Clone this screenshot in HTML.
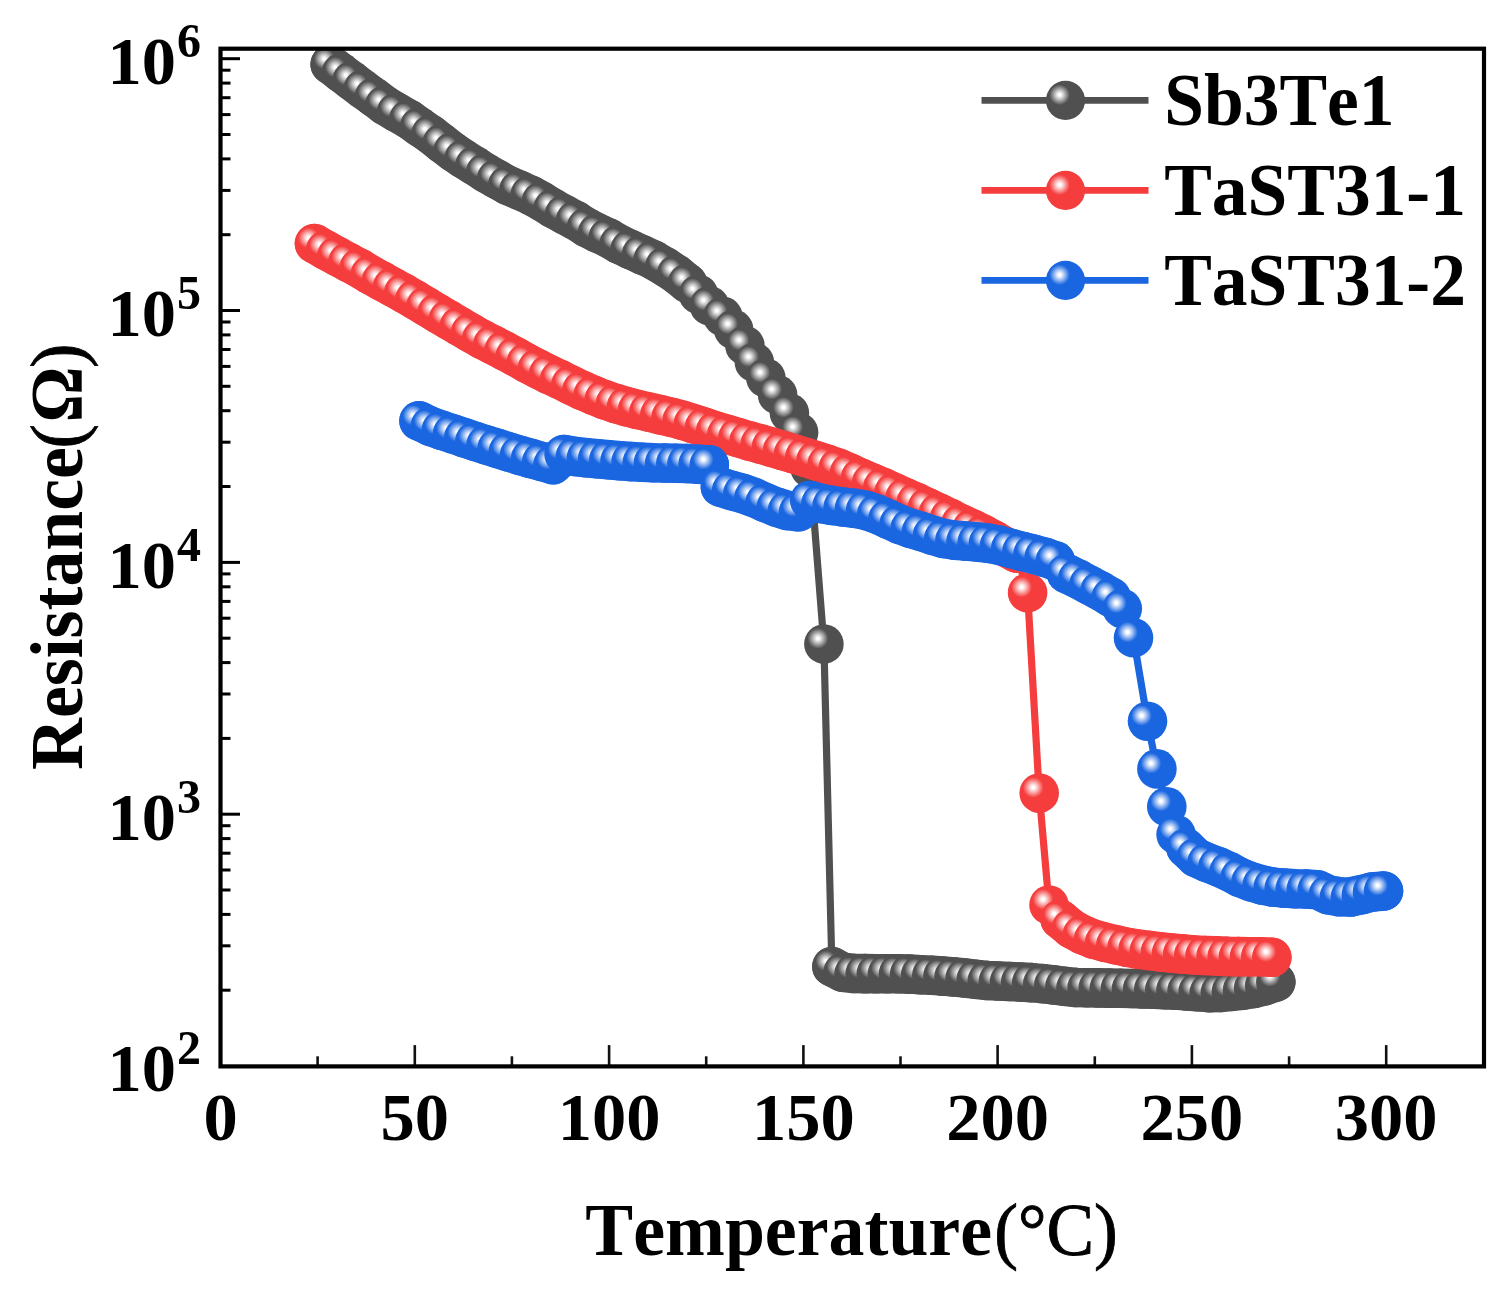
<!DOCTYPE html>
<html lang="en"><head><meta charset="utf-8"><title>Resistance vs Temperature</title>
<style>
html,body{margin:0;padding:0;background:#fff;}
body{width:1509px;height:1289px;overflow:hidden;}
svg{display:block;filter:blur(0.55px);}
text{font-family:"Liberation Serif","Noto Serif CJK SC",serif;font-weight:bold;fill:#000;font-kerning:none;}
.tk{font-size:68.5px;}
.ex{font-size:48px;}
.ttl{font-size:73.5px;}
.lg{font-size:73.5px;}
.lt{font-weight:normal;stroke:#000;stroke-width:0.9px;}
</style></head><body>
<svg width="1509" height="1289" viewBox="0 0 1509 1289">
<defs>
<radialGradient id="gk" cx="0.35" cy="0.357" r="0.26" fx="0.35" fy="0.357"><stop offset="0" stop-color="#ffffff"/><stop offset="0.12" stop-color="#ffffff"/><stop offset="0.4" stop-color="#cacaca"/><stop offset="0.72" stop-color="#888888"/><stop offset="1" stop-color="#505050"/></radialGradient>
<radialGradient id="gr" cx="0.35" cy="0.357" r="0.26" fx="0.35" fy="0.357"><stop offset="0" stop-color="#ffffff"/><stop offset="0.12" stop-color="#ffffff"/><stop offset="0.4" stop-color="#fcc5c5"/><stop offset="0.72" stop-color="#f87b7b"/><stop offset="1" stop-color="#f53d3d"/></radialGradient>
<radialGradient id="gb" cx="0.35" cy="0.357" r="0.26" fx="0.35" fy="0.357"><stop offset="0" stop-color="#ffffff"/><stop offset="0.12" stop-color="#ffffff"/><stop offset="0.4" stop-color="#bad1f6"/><stop offset="0.72" stop-color="#6397ea"/><stop offset="1" stop-color="#1a66e0"/></radialGradient>
<clipPath id="cp"><rect x="220.5" y="48.7" width="1263.5" height="1017.7"/></clipPath>
</defs>
<rect x="0" y="0" width="1509" height="1289" fill="#ffffff"/>
<g clip-path="url(#cp)">
<path d="M330.2 64.4 L341.3 72.9 L351.9 80.8 L363.0 89.3 L374.1 97.3 L384.7 105.2 L396.5 112.3 L408.8 119.2 L419.5 126.8 L430.8 134.5 L442.1 143.4 L452.8 151.6 L463.8 159.0 L474.8 165.8 L485.5 172.8 L496.5 179.0 L507.7 185.2 L518.9 190.0 L530.1 195.0 L541.5 201.2 L553.1 208.4 L564.5 214.6 L575.5 220.4 L586.5 227.4 L597.5 233.0 L608.1 237.8 L619.1 244.2 L630.1 249.4 L641.5 254.6 L653.1 259.8 L664.8 266.6 L676.5 274.3 L687.5 283.2 L698.5 294.3 L709.5 305.8 L722.8 316.4 L733.6 329.4 L744.9 345.6 L754.4 362.3 L765.9 378.0 L777.6 394.8 L789.4 413.0 L798.6 432.3 L810.0 468.0 L823.9 644.0 L831.9 966.6 L843.0 972.3 L854.1 973.5 L865.2 973.6 L876.3 973.7 L887.4 973.8 L898.5 973.8 L909.6 974.1 L920.7 974.7 L931.8 975.3 L942.9 976.1 L954.0 976.9 L965.1 978.0 L976.2 979.3 L987.3 980.5 L998.4 981.0 L1009.5 981.5 L1020.6 982.1 L1031.7 982.6 L1042.8 983.6 L1053.8 984.9 L1064.9 986.3 L1076.0 987.5 L1087.1 987.7 L1098.2 987.9 L1109.3 988.1 L1120.4 988.3 L1131.5 988.5 L1142.6 988.9 L1153.7 989.3 L1164.8 989.7 L1175.9 990.1 L1187.0 990.9 L1198.1 991.7 L1209.2 992.6 L1220.3 992.5 L1231.4 991.4 L1242.5 990.2 L1253.6 988.4 L1264.7 985.7 L1275.8 982.0" fill="none" stroke="#505050" stroke-width="7.2" stroke-linejoin="round"/>
<path d="M330.2 64.4 L341.3 72.9 L351.9 80.8 L363.0 89.3 L374.1 97.3 L384.7 105.2 L396.5 112.3 L408.8 119.2 L419.5 126.8 L430.8 134.5 L442.1 143.4 L452.8 151.6 L463.8 159.0 L474.8 165.8 L485.5 172.8 L496.5 179.0 L507.7 185.2 L518.9 190.0 L530.1 195.0 L541.5 201.2 L553.1 208.4 L564.5 214.6 L575.5 220.4 L586.5 227.4 L597.5 233.0 L608.1 237.8 L619.1 244.2 L630.1 249.4 L641.5 254.6 L653.1 259.8 L664.8 266.6 L676.5 274.3 L687.5 283.2 M831.9 966.6 L843.0 972.3 L854.1 973.5 L865.2 973.6 L876.3 973.7 L887.4 973.8 L898.5 973.8 L909.6 974.1 L920.7 974.7 L931.8 975.3 L942.9 976.1 L954.0 976.9 L965.1 978.0 L976.2 979.3 L987.3 980.5 L998.4 981.0 L1009.5 981.5 L1020.6 982.1 L1031.7 982.6 L1042.8 983.6 L1053.8 984.9 L1064.9 986.3 L1076.0 987.5 L1087.1 987.7 L1098.2 987.9 L1109.3 988.1 L1120.4 988.3 L1131.5 988.5 L1142.6 988.9 L1153.7 989.3 L1164.8 989.7 L1175.9 990.1 L1187.0 990.9 L1198.1 991.7 L1209.2 992.6 L1220.3 992.5 L1231.4 991.4 L1242.5 990.2 L1253.6 988.4 L1264.7 985.7 L1275.8 982.0" fill="none" stroke="#505050" stroke-width="39.6" stroke-linejoin="round" stroke-linecap="round"/>
<g fill="url(#gk)">
<circle cx="330.2" cy="64.4" r="19.8"/>
<circle cx="341.3" cy="72.9" r="19.8"/>
<circle cx="351.9" cy="80.8" r="19.8"/>
<circle cx="363.0" cy="89.3" r="19.8"/>
<circle cx="374.1" cy="97.3" r="19.8"/>
<circle cx="384.7" cy="105.2" r="19.8"/>
<circle cx="396.5" cy="112.3" r="19.8"/>
<circle cx="408.8" cy="119.2" r="19.8"/>
<circle cx="419.5" cy="126.8" r="19.8"/>
<circle cx="430.8" cy="134.5" r="19.8"/>
<circle cx="442.1" cy="143.4" r="19.8"/>
<circle cx="452.8" cy="151.6" r="19.8"/>
<circle cx="463.8" cy="159.0" r="19.8"/>
<circle cx="474.8" cy="165.8" r="19.8"/>
<circle cx="485.5" cy="172.8" r="19.8"/>
<circle cx="496.5" cy="179.0" r="19.8"/>
<circle cx="507.7" cy="185.2" r="19.8"/>
<circle cx="518.9" cy="190.0" r="19.8"/>
<circle cx="530.1" cy="195.0" r="19.8"/>
<circle cx="541.5" cy="201.2" r="19.8"/>
<circle cx="553.1" cy="208.4" r="19.8"/>
<circle cx="564.5" cy="214.6" r="19.8"/>
<circle cx="575.5" cy="220.4" r="19.8"/>
<circle cx="586.5" cy="227.4" r="19.8"/>
<circle cx="597.5" cy="233.0" r="19.8"/>
<circle cx="608.1" cy="237.8" r="19.8"/>
<circle cx="619.1" cy="244.2" r="19.8"/>
<circle cx="630.1" cy="249.4" r="19.8"/>
<circle cx="641.5" cy="254.6" r="19.8"/>
<circle cx="653.1" cy="259.8" r="19.8"/>
<circle cx="664.8" cy="266.6" r="19.8"/>
<circle cx="676.5" cy="274.3" r="19.8"/>
<circle cx="687.5" cy="283.2" r="19.8"/>
<circle cx="698.5" cy="294.3" r="19.8"/>
<circle cx="709.5" cy="305.8" r="19.8"/>
<circle cx="722.8" cy="316.4" r="19.8"/>
<circle cx="733.6" cy="329.4" r="19.8"/>
<circle cx="744.9" cy="345.6" r="19.8"/>
<circle cx="754.4" cy="362.3" r="19.8"/>
<circle cx="765.9" cy="378.0" r="19.8"/>
<circle cx="777.6" cy="394.8" r="19.8"/>
<circle cx="789.4" cy="413.0" r="19.8"/>
<circle cx="798.6" cy="432.3" r="19.8"/>
<circle cx="810.0" cy="468.0" r="19.8"/>
<circle cx="823.9" cy="644.0" r="19.8"/>
<circle cx="831.9" cy="966.6" r="19.8"/>
<circle cx="843.0" cy="972.3" r="19.8"/>
<circle cx="854.1" cy="973.5" r="19.8"/>
<circle cx="865.2" cy="973.6" r="19.8"/>
<circle cx="876.3" cy="973.7" r="19.8"/>
<circle cx="887.4" cy="973.8" r="19.8"/>
<circle cx="898.5" cy="973.8" r="19.8"/>
<circle cx="909.6" cy="974.1" r="19.8"/>
<circle cx="920.7" cy="974.7" r="19.8"/>
<circle cx="931.8" cy="975.3" r="19.8"/>
<circle cx="942.9" cy="976.1" r="19.8"/>
<circle cx="954.0" cy="976.9" r="19.8"/>
<circle cx="965.1" cy="978.0" r="19.8"/>
<circle cx="976.2" cy="979.3" r="19.8"/>
<circle cx="987.3" cy="980.5" r="19.8"/>
<circle cx="998.4" cy="981.0" r="19.8"/>
<circle cx="1009.5" cy="981.5" r="19.8"/>
<circle cx="1020.6" cy="982.1" r="19.8"/>
<circle cx="1031.7" cy="982.6" r="19.8"/>
<circle cx="1042.8" cy="983.6" r="19.8"/>
<circle cx="1053.8" cy="984.9" r="19.8"/>
<circle cx="1064.9" cy="986.3" r="19.8"/>
<circle cx="1076.0" cy="987.5" r="19.8"/>
<circle cx="1087.1" cy="987.7" r="19.8"/>
<circle cx="1098.2" cy="987.9" r="19.8"/>
<circle cx="1109.3" cy="988.1" r="19.8"/>
<circle cx="1120.4" cy="988.3" r="19.8"/>
<circle cx="1131.5" cy="988.5" r="19.8"/>
<circle cx="1142.6" cy="988.9" r="19.8"/>
<circle cx="1153.7" cy="989.3" r="19.8"/>
<circle cx="1164.8" cy="989.7" r="19.8"/>
<circle cx="1175.9" cy="990.1" r="19.8"/>
<circle cx="1187.0" cy="990.9" r="19.8"/>
<circle cx="1198.1" cy="991.7" r="19.8"/>
<circle cx="1209.2" cy="992.6" r="19.8"/>
<circle cx="1220.3" cy="992.5" r="19.8"/>
<circle cx="1231.4" cy="991.4" r="19.8"/>
<circle cx="1242.5" cy="990.2" r="19.8"/>
<circle cx="1253.6" cy="988.4" r="19.8"/>
<circle cx="1264.7" cy="985.7" r="19.8"/>
<circle cx="1275.8" cy="982.0" r="19.8"/>
</g>
<path d="M314.5 243.6 L325.6 250.0 L336.8 256.1 L347.9 262.1 L359.1 268.0 L370.2 274.7 L381.4 280.9 L392.5 287.0 L403.6 293.1 L414.8 299.6 L425.9 306.2 L437.1 313.1 L448.2 319.6 L459.4 326.2 L470.5 332.8 L481.6 339.1 L492.8 344.7 L503.9 350.6 L515.1 356.5 L526.2 362.8 L537.4 368.6 L548.5 374.2 L559.6 379.4 L570.8 385.0 L581.9 390.3 L593.1 395.1 L604.2 399.6 L615.4 403.4 L626.5 406.6 L637.6 409.5 L648.8 412.0 L659.9 414.6 L671.1 417.2 L682.2 420.2 L693.4 423.7 L704.5 427.2 L715.6 431.0 L726.8 434.3 L737.9 437.5 L749.1 440.9 L760.2 443.9 L771.4 447.1 L782.5 450.4 L793.6 453.7 L804.8 457.1 L815.9 460.7 L827.1 464.2 L838.2 468.1 L849.4 473.0 L860.5 478.0 L871.6 482.7 L882.8 487.4 L893.9 492.5 L905.1 497.5 L916.2 502.4 L927.4 507.6 L938.5 512.9 L949.6 518.1 L960.8 523.8 L971.9 528.8 L983.1 534.3 L994.2 540.4 L1005.4 546.9 L1016.5 553.0 L1027.6 592.7 L1039.2 793.1 L1049.0 905.0 L1060.1 919.3 L1071.3 928.6 L1082.4 934.7 L1093.6 939.2 L1104.7 942.2 L1115.8 944.8 L1127.0 947.3 L1138.1 949.1 L1149.3 950.5 L1160.4 951.9 L1171.5 953.0 L1182.7 953.9 L1193.8 954.9 L1205.0 955.5 L1216.1 955.9 L1227.2 956.4 L1238.4 956.6 L1249.5 956.7 L1260.7 956.8 L1271.8 957.3" fill="none" stroke="#f53d3d" stroke-width="7.2" stroke-linejoin="round"/>
<path d="M314.5 243.6 L325.6 250.0 L336.8 256.1 L347.9 262.1 L359.1 268.0 L370.2 274.7 L381.4 280.9 L392.5 287.0 L403.6 293.1 L414.8 299.6 L425.9 306.2 L437.1 313.1 L448.2 319.6 L459.4 326.2 L470.5 332.8 L481.6 339.1 L492.8 344.7 L503.9 350.6 L515.1 356.5 L526.2 362.8 L537.4 368.6 L548.5 374.2 L559.6 379.4 L570.8 385.0 L581.9 390.3 L593.1 395.1 L604.2 399.6 L615.4 403.4 L626.5 406.6 L637.6 409.5 L648.8 412.0 L659.9 414.6 L671.1 417.2 L682.2 420.2 L693.4 423.7 L704.5 427.2 L715.6 431.0 L726.8 434.3 L737.9 437.5 L749.1 440.9 L760.2 443.9 L771.4 447.1 L782.5 450.4 L793.6 453.7 L804.8 457.1 L815.9 460.7 L827.1 464.2 L838.2 468.1 L849.4 473.0 L860.5 478.0 L871.6 482.7 L882.8 487.4 L893.9 492.5 L905.1 497.5 L916.2 502.4 L927.4 507.6 L938.5 512.9 L949.6 518.1 L960.8 523.8 L971.9 528.8 L983.1 534.3 L994.2 540.4 L1005.4 546.9 L1016.5 553.0 M1060.1 919.3 L1071.3 928.6 L1082.4 934.7 L1093.6 939.2 L1104.7 942.2 L1115.8 944.8 L1127.0 947.3 L1138.1 949.1 L1149.3 950.5 L1160.4 951.9 L1171.5 953.0 L1182.7 953.9 L1193.8 954.9 L1205.0 955.5 L1216.1 955.9 L1227.2 956.4 L1238.4 956.6 L1249.5 956.7 L1260.7 956.8 L1271.8 957.3" fill="none" stroke="#f53d3d" stroke-width="39.6" stroke-linejoin="round" stroke-linecap="round"/>
<g fill="url(#gr)">
<circle cx="314.5" cy="243.6" r="19.8"/>
<circle cx="325.6" cy="250.0" r="19.8"/>
<circle cx="336.8" cy="256.1" r="19.8"/>
<circle cx="347.9" cy="262.1" r="19.8"/>
<circle cx="359.1" cy="268.0" r="19.8"/>
<circle cx="370.2" cy="274.7" r="19.8"/>
<circle cx="381.4" cy="280.9" r="19.8"/>
<circle cx="392.5" cy="287.0" r="19.8"/>
<circle cx="403.6" cy="293.1" r="19.8"/>
<circle cx="414.8" cy="299.6" r="19.8"/>
<circle cx="425.9" cy="306.2" r="19.8"/>
<circle cx="437.1" cy="313.1" r="19.8"/>
<circle cx="448.2" cy="319.6" r="19.8"/>
<circle cx="459.4" cy="326.2" r="19.8"/>
<circle cx="470.5" cy="332.8" r="19.8"/>
<circle cx="481.6" cy="339.1" r="19.8"/>
<circle cx="492.8" cy="344.7" r="19.8"/>
<circle cx="503.9" cy="350.6" r="19.8"/>
<circle cx="515.1" cy="356.5" r="19.8"/>
<circle cx="526.2" cy="362.8" r="19.8"/>
<circle cx="537.4" cy="368.6" r="19.8"/>
<circle cx="548.5" cy="374.2" r="19.8"/>
<circle cx="559.6" cy="379.4" r="19.8"/>
<circle cx="570.8" cy="385.0" r="19.8"/>
<circle cx="581.9" cy="390.3" r="19.8"/>
<circle cx="593.1" cy="395.1" r="19.8"/>
<circle cx="604.2" cy="399.6" r="19.8"/>
<circle cx="615.4" cy="403.4" r="19.8"/>
<circle cx="626.5" cy="406.6" r="19.8"/>
<circle cx="637.6" cy="409.5" r="19.8"/>
<circle cx="648.8" cy="412.0" r="19.8"/>
<circle cx="659.9" cy="414.6" r="19.8"/>
<circle cx="671.1" cy="417.2" r="19.8"/>
<circle cx="682.2" cy="420.2" r="19.8"/>
<circle cx="693.4" cy="423.7" r="19.8"/>
<circle cx="704.5" cy="427.2" r="19.8"/>
<circle cx="715.6" cy="431.0" r="19.8"/>
<circle cx="726.8" cy="434.3" r="19.8"/>
<circle cx="737.9" cy="437.5" r="19.8"/>
<circle cx="749.1" cy="440.9" r="19.8"/>
<circle cx="760.2" cy="443.9" r="19.8"/>
<circle cx="771.4" cy="447.1" r="19.8"/>
<circle cx="782.5" cy="450.4" r="19.8"/>
<circle cx="793.6" cy="453.7" r="19.8"/>
<circle cx="804.8" cy="457.1" r="19.8"/>
<circle cx="815.9" cy="460.7" r="19.8"/>
<circle cx="827.1" cy="464.2" r="19.8"/>
<circle cx="838.2" cy="468.1" r="19.8"/>
<circle cx="849.4" cy="473.0" r="19.8"/>
<circle cx="860.5" cy="478.0" r="19.8"/>
<circle cx="871.6" cy="482.7" r="19.8"/>
<circle cx="882.8" cy="487.4" r="19.8"/>
<circle cx="893.9" cy="492.5" r="19.8"/>
<circle cx="905.1" cy="497.5" r="19.8"/>
<circle cx="916.2" cy="502.4" r="19.8"/>
<circle cx="927.4" cy="507.6" r="19.8"/>
<circle cx="938.5" cy="512.9" r="19.8"/>
<circle cx="949.6" cy="518.1" r="19.8"/>
<circle cx="960.8" cy="523.8" r="19.8"/>
<circle cx="971.9" cy="528.8" r="19.8"/>
<circle cx="983.1" cy="534.3" r="19.8"/>
<circle cx="994.2" cy="540.4" r="19.8"/>
<circle cx="1005.4" cy="546.9" r="19.8"/>
<circle cx="1016.5" cy="553.0" r="19.8"/>
<circle cx="1027.6" cy="592.7" r="19.8"/>
<circle cx="1039.2" cy="793.1" r="19.8"/>
<circle cx="1049.0" cy="905.0" r="19.8"/>
<circle cx="1060.1" cy="919.3" r="19.8"/>
<circle cx="1071.3" cy="928.6" r="19.8"/>
<circle cx="1082.4" cy="934.7" r="19.8"/>
<circle cx="1093.6" cy="939.2" r="19.8"/>
<circle cx="1104.7" cy="942.2" r="19.8"/>
<circle cx="1115.8" cy="944.8" r="19.8"/>
<circle cx="1127.0" cy="947.3" r="19.8"/>
<circle cx="1138.1" cy="949.1" r="19.8"/>
<circle cx="1149.3" cy="950.5" r="19.8"/>
<circle cx="1160.4" cy="951.9" r="19.8"/>
<circle cx="1171.5" cy="953.0" r="19.8"/>
<circle cx="1182.7" cy="953.9" r="19.8"/>
<circle cx="1193.8" cy="954.9" r="19.8"/>
<circle cx="1205.0" cy="955.5" r="19.8"/>
<circle cx="1216.1" cy="955.9" r="19.8"/>
<circle cx="1227.2" cy="956.4" r="19.8"/>
<circle cx="1238.4" cy="956.6" r="19.8"/>
<circle cx="1249.5" cy="956.7" r="19.8"/>
<circle cx="1260.7" cy="956.8" r="19.8"/>
<circle cx="1271.8" cy="957.3" r="19.8"/>
</g>
<path d="M419.0 420.9 L430.2 426.2 L441.3 430.1 L452.5 433.8 L463.7 437.6 L474.8 441.3 L486.0 444.8 L497.1 448.2 L508.3 451.8 L519.5 455.2 L530.6 458.4 L541.8 461.5 L553.0 464.6 L564.1 454.5 L575.3 456.5 L586.5 457.7 L597.6 458.8 L608.8 459.8 L620.0 460.8 L631.1 461.6 L642.3 462.3 L653.4 462.8 L664.6 463.0 L675.8 463.2 L686.9 463.5 L698.1 464.2 L709.3 464.9 L720.4 487.0 L731.6 490.5 L742.8 493.5 L753.9 497.5 L765.1 502.5 L776.2 507.0 L787.4 510.5 L798.6 511.8 L809.7 500.5 L820.9 503.5 L832.1 505.5 L843.2 507.0 L854.4 508.3 L865.6 510.2 L876.7 514.0 L887.9 519.1 L899.1 524.1 L910.2 528.2 L921.4 531.5 L932.5 535.2 L943.7 538.5 L954.9 540.2 L966.0 541.1 L977.2 542.0 L988.4 543.2 L999.5 545.3 L1010.7 548.3 L1021.9 551.3 L1033.0 554.0 L1044.2 557.1 L1055.3 560.9 L1066.5 573.5 L1077.7 578.8 L1088.8 584.8 L1100.0 590.8 L1111.2 597.4 L1122.3 608.6 L1133.5 637.8 L1147.5 721.2 L1156.9 768.9 L1166.8 806.7 L1176.1 834.6 L1186.0 848.0 L1196.0 857.5 L1207.0 862.5 L1218.0 866.6 L1229.1 871.6 L1240.1 877.5 L1251.1 881.7 L1262.2 885.0 L1273.2 887.1 L1284.2 888.1 L1295.2 888.8 L1306.3 889.0 L1317.3 889.7 L1328.3 894.8 L1339.4 896.8 L1350.4 897.0 L1361.4 894.7 L1372.5 891.9 L1383.5 891.0" fill="none" stroke="#1a66e0" stroke-width="7.2" stroke-linejoin="round"/>
<path d="M419.0 420.9 L430.2 426.2 L441.3 430.1 L452.5 433.8 L463.7 437.6 L474.8 441.3 L486.0 444.8 L497.1 448.2 L508.3 451.8 L519.5 455.2 L530.6 458.4 L541.8 461.5 L553.0 464.6 L564.1 454.5 L575.3 456.5 L586.5 457.7 L597.6 458.8 L608.8 459.8 L620.0 460.8 L631.1 461.6 L642.3 462.3 L653.4 462.8 L664.6 463.0 L675.8 463.2 L686.9 463.5 L698.1 464.2 L709.3 464.9 M720.4 487.0 L731.6 490.5 L742.8 493.5 L753.9 497.5 L765.1 502.5 L776.2 507.0 L787.4 510.5 L798.6 511.8 M809.7 500.5 L820.9 503.5 L832.1 505.5 L843.2 507.0 L854.4 508.3 L865.6 510.2 L876.7 514.0 L887.9 519.1 L899.1 524.1 L910.2 528.2 L921.4 531.5 L932.5 535.2 L943.7 538.5 L954.9 540.2 L966.0 541.1 L977.2 542.0 L988.4 543.2 L999.5 545.3 L1010.7 548.3 L1021.9 551.3 L1033.0 554.0 L1044.2 557.1 L1055.3 560.9 M1066.5 573.5 L1077.7 578.8 L1088.8 584.8 L1100.0 590.8 L1111.2 597.4 M1186.0 848.0 L1196.0 857.5 L1207.0 862.5 L1218.0 866.6 L1229.1 871.6 L1240.1 877.5 L1251.1 881.7 L1262.2 885.0 L1273.2 887.1 L1284.2 888.1 L1295.2 888.8 L1306.3 889.0 L1317.3 889.7 L1328.3 894.8 L1339.4 896.8 L1350.4 897.0 L1361.4 894.7 L1372.5 891.9 L1383.5 891.0" fill="none" stroke="#1a66e0" stroke-width="39.6" stroke-linejoin="round" stroke-linecap="round"/>
<g fill="url(#gb)">
<circle cx="419.0" cy="420.9" r="19.8"/>
<circle cx="430.2" cy="426.2" r="19.8"/>
<circle cx="441.3" cy="430.1" r="19.8"/>
<circle cx="452.5" cy="433.8" r="19.8"/>
<circle cx="463.7" cy="437.6" r="19.8"/>
<circle cx="474.8" cy="441.3" r="19.8"/>
<circle cx="486.0" cy="444.8" r="19.8"/>
<circle cx="497.1" cy="448.2" r="19.8"/>
<circle cx="508.3" cy="451.8" r="19.8"/>
<circle cx="519.5" cy="455.2" r="19.8"/>
<circle cx="530.6" cy="458.4" r="19.8"/>
<circle cx="541.8" cy="461.5" r="19.8"/>
<circle cx="553.0" cy="464.6" r="19.8"/>
<circle cx="564.1" cy="454.5" r="19.8"/>
<circle cx="575.3" cy="456.5" r="19.8"/>
<circle cx="586.5" cy="457.7" r="19.8"/>
<circle cx="597.6" cy="458.8" r="19.8"/>
<circle cx="608.8" cy="459.8" r="19.8"/>
<circle cx="620.0" cy="460.8" r="19.8"/>
<circle cx="631.1" cy="461.6" r="19.8"/>
<circle cx="642.3" cy="462.3" r="19.8"/>
<circle cx="653.4" cy="462.8" r="19.8"/>
<circle cx="664.6" cy="463.0" r="19.8"/>
<circle cx="675.8" cy="463.2" r="19.8"/>
<circle cx="686.9" cy="463.5" r="19.8"/>
<circle cx="698.1" cy="464.2" r="19.8"/>
<circle cx="709.3" cy="464.9" r="19.8"/>
<circle cx="720.4" cy="487.0" r="19.8"/>
<circle cx="731.6" cy="490.5" r="19.8"/>
<circle cx="742.8" cy="493.5" r="19.8"/>
<circle cx="753.9" cy="497.5" r="19.8"/>
<circle cx="765.1" cy="502.5" r="19.8"/>
<circle cx="776.2" cy="507.0" r="19.8"/>
<circle cx="787.4" cy="510.5" r="19.8"/>
<circle cx="798.6" cy="511.8" r="19.8"/>
<circle cx="809.7" cy="500.5" r="19.8"/>
<circle cx="820.9" cy="503.5" r="19.8"/>
<circle cx="832.1" cy="505.5" r="19.8"/>
<circle cx="843.2" cy="507.0" r="19.8"/>
<circle cx="854.4" cy="508.3" r="19.8"/>
<circle cx="865.6" cy="510.2" r="19.8"/>
<circle cx="876.7" cy="514.0" r="19.8"/>
<circle cx="887.9" cy="519.1" r="19.8"/>
<circle cx="899.1" cy="524.1" r="19.8"/>
<circle cx="910.2" cy="528.2" r="19.8"/>
<circle cx="921.4" cy="531.5" r="19.8"/>
<circle cx="932.5" cy="535.2" r="19.8"/>
<circle cx="943.7" cy="538.5" r="19.8"/>
<circle cx="954.9" cy="540.2" r="19.8"/>
<circle cx="966.0" cy="541.1" r="19.8"/>
<circle cx="977.2" cy="542.0" r="19.8"/>
<circle cx="988.4" cy="543.2" r="19.8"/>
<circle cx="999.5" cy="545.3" r="19.8"/>
<circle cx="1010.7" cy="548.3" r="19.8"/>
<circle cx="1021.9" cy="551.3" r="19.8"/>
<circle cx="1033.0" cy="554.0" r="19.8"/>
<circle cx="1044.2" cy="557.1" r="19.8"/>
<circle cx="1055.3" cy="560.9" r="19.8"/>
<circle cx="1066.5" cy="573.5" r="19.8"/>
<circle cx="1077.7" cy="578.8" r="19.8"/>
<circle cx="1088.8" cy="584.8" r="19.8"/>
<circle cx="1100.0" cy="590.8" r="19.8"/>
<circle cx="1111.2" cy="597.4" r="19.8"/>
<circle cx="1122.3" cy="608.6" r="19.8"/>
<circle cx="1133.5" cy="637.8" r="19.8"/>
<circle cx="1147.5" cy="721.2" r="19.8"/>
<circle cx="1156.9" cy="768.9" r="19.8"/>
<circle cx="1166.8" cy="806.7" r="19.8"/>
<circle cx="1176.1" cy="834.6" r="19.8"/>
<circle cx="1186.0" cy="848.0" r="19.8"/>
<circle cx="1196.0" cy="857.5" r="19.8"/>
<circle cx="1207.0" cy="862.5" r="19.8"/>
<circle cx="1218.0" cy="866.6" r="19.8"/>
<circle cx="1229.1" cy="871.6" r="19.8"/>
<circle cx="1240.1" cy="877.5" r="19.8"/>
<circle cx="1251.1" cy="881.7" r="19.8"/>
<circle cx="1262.2" cy="885.0" r="19.8"/>
<circle cx="1273.2" cy="887.1" r="19.8"/>
<circle cx="1284.2" cy="888.1" r="19.8"/>
<circle cx="1295.2" cy="888.8" r="19.8"/>
<circle cx="1306.3" cy="889.0" r="19.8"/>
<circle cx="1317.3" cy="889.7" r="19.8"/>
<circle cx="1328.3" cy="894.8" r="19.8"/>
<circle cx="1339.4" cy="896.8" r="19.8"/>
<circle cx="1350.4" cy="897.0" r="19.8"/>
<circle cx="1361.4" cy="894.7" r="19.8"/>
<circle cx="1372.5" cy="891.9" r="19.8"/>
<circle cx="1383.5" cy="891.0" r="19.8"/>
</g>
</g>
<g stroke="#000" stroke-width="3" fill="none"><line x1="220.5" y1="990.2" x2="230.5" y2="990.2"/><line x1="220.5" y1="945.8" x2="230.5" y2="945.8"/><line x1="220.5" y1="914.4" x2="230.5" y2="914.4"/><line x1="220.5" y1="890.0" x2="230.5" y2="890.0"/><line x1="220.5" y1="870.0" x2="230.5" y2="870.0"/><line x1="220.5" y1="853.2" x2="230.5" y2="853.2"/><line x1="220.5" y1="838.6" x2="230.5" y2="838.6"/><line x1="220.5" y1="825.7" x2="230.5" y2="825.7"/><line x1="220.5" y1="814.2" x2="240.0" y2="814.2"/><line x1="220.5" y1="738.4" x2="230.5" y2="738.4"/><line x1="220.5" y1="694.0" x2="230.5" y2="694.0"/><line x1="220.5" y1="662.6" x2="230.5" y2="662.6"/><line x1="220.5" y1="638.2" x2="230.5" y2="638.2"/><line x1="220.5" y1="618.2" x2="230.5" y2="618.2"/><line x1="220.5" y1="601.4" x2="230.5" y2="601.4"/><line x1="220.5" y1="586.8" x2="230.5" y2="586.8"/><line x1="220.5" y1="573.9" x2="230.5" y2="573.9"/><line x1="220.5" y1="562.4" x2="240.0" y2="562.4"/><line x1="220.5" y1="486.5" x2="230.5" y2="486.5"/><line x1="220.5" y1="442.2" x2="230.5" y2="442.2"/><line x1="220.5" y1="410.7" x2="230.5" y2="410.7"/><line x1="220.5" y1="386.3" x2="230.5" y2="386.3"/><line x1="220.5" y1="366.4" x2="230.5" y2="366.4"/><line x1="220.5" y1="349.5" x2="230.5" y2="349.5"/><line x1="220.5" y1="334.9" x2="230.5" y2="334.9"/><line x1="220.5" y1="322.0" x2="230.5" y2="322.0"/><line x1="220.5" y1="310.5" x2="240.0" y2="310.5"/><line x1="220.5" y1="234.7" x2="230.5" y2="234.7"/><line x1="220.5" y1="190.4" x2="230.5" y2="190.4"/><line x1="220.5" y1="158.9" x2="230.5" y2="158.9"/><line x1="220.5" y1="134.5" x2="230.5" y2="134.5"/><line x1="220.5" y1="114.6" x2="230.5" y2="114.6"/><line x1="220.5" y1="97.7" x2="230.5" y2="97.7"/><line x1="220.5" y1="83.1" x2="230.5" y2="83.1"/><line x1="220.5" y1="70.2" x2="230.5" y2="70.2"/><line x1="220.5" y1="58.7" x2="240.0" y2="58.7"/></g>
<g stroke="#111" stroke-width="2.6" fill="none"><line x1="317.6" y1="1066.4" x2="317.6" y2="1056.3000000000002"/><line x1="414.8" y1="1066.4" x2="414.8" y2="1045.1000000000001"/><line x1="511.9" y1="1066.4" x2="511.9" y2="1056.3000000000002"/><line x1="609.1" y1="1066.4" x2="609.1" y2="1045.1000000000001"/><line x1="706.2" y1="1066.4" x2="706.2" y2="1056.3000000000002"/><line x1="803.4" y1="1066.4" x2="803.4" y2="1045.1000000000001"/><line x1="900.5" y1="1066.4" x2="900.5" y2="1056.3000000000002"/><line x1="997.6" y1="1066.4" x2="997.6" y2="1045.1000000000001"/><line x1="1094.8" y1="1066.4" x2="1094.8" y2="1056.3000000000002"/><line x1="1191.9" y1="1066.4" x2="1191.9" y2="1045.1000000000001"/><line x1="1289.1" y1="1066.4" x2="1289.1" y2="1056.3000000000002"/><line x1="1386.2" y1="1066.4" x2="1386.2" y2="1045.1000000000001"/></g>
<rect x="220.5" y="48.7" width="1263.5" height="1017.7" fill="none" stroke="#000" stroke-width="4.2"/>
<text class="tk" x="220.5" y="1139.8" text-anchor="middle">0</text><text class="tk" x="414.8" y="1139.8" text-anchor="middle">50</text><text class="tk" x="609.1" y="1139.8" text-anchor="middle">100</text><text class="tk" x="803.4" y="1139.8" text-anchor="middle">150</text><text class="tk" x="997.6" y="1139.8" text-anchor="middle">200</text><text class="tk" x="1191.9" y="1139.8" text-anchor="middle">250</text><text class="tk" x="1386.2" y="1139.8" text-anchor="middle">300</text>
<text class="tk" x="107.5" y="1091.3">10<tspan class="ex" dy="-27" dx="1">2</tspan></text><text class="tk" x="107.5" y="839.5">10<tspan class="ex" dy="-27" dx="1">3</tspan></text><text class="tk" x="107.5" y="587.6">10<tspan class="ex" dy="-27" dx="1">4</tspan></text><text class="tk" x="107.5" y="335.8">10<tspan class="ex" dy="-27" dx="1">5</tspan></text><text class="tk" x="107.5" y="84.0">10<tspan class="ex" dy="-27" dx="1">6</tspan></text>
<text class="ttl" y="1254.6"><tspan x="585.3" textLength="406.8" lengthAdjust="spacingAndGlyphs">Temperature</tspan><tspan class="lt" x="994.2" textLength="123.5" lengthAdjust="spacingAndGlyphs">(°C)</tspan></text>
<text class="ttl" transform="translate(82,0) rotate(-90)" y="0"><tspan x="-769.9" textLength="322.7" lengthAdjust="spacingAndGlyphs">Resistance</tspan><tspan class="lt" x="-448.4">(</tspan><tspan x="-422.4" textLength="56" lengthAdjust="spacingAndGlyphs">Ω</tspan><tspan class="lt" x="-367.9">)</tspan></text>
<line x1="981.5" y1="100.4" x2="1148.5" y2="100.4" stroke="#505050" stroke-width="6.6"/><circle cx="1065.5" cy="100.4" r="19.6" fill="url(#gk)"/><text class="lg" x="1164.2" y="125.3" textLength="230.3" lengthAdjust="spacingAndGlyphs">Sb3Te1</text>
<line x1="981.5" y1="190.4" x2="1148.5" y2="190.4" stroke="#f53d3d" stroke-width="6.6"/><circle cx="1065.5" cy="190.4" r="19.6" fill="url(#gr)"/><text class="lg" x="1164.2" y="215.3" textLength="301.7" lengthAdjust="spacingAndGlyphs">TaST31-1</text>
<line x1="981.5" y1="280.4" x2="1148.5" y2="280.4" stroke="#1a66e0" stroke-width="6.6"/><circle cx="1065.5" cy="280.4" r="19.6" fill="url(#gb)"/><text class="lg" x="1164.2" y="305.3" textLength="301.7" lengthAdjust="spacingAndGlyphs">TaST31-2</text>
</svg>
</body></html>
